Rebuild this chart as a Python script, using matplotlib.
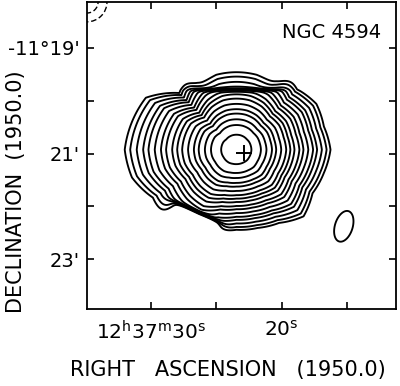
import numpy as np
import matplotlib
matplotlib.use("Agg")
import matplotlib.pyplot as plt
from matplotlib.patches import Ellipse

# frame: RA in seconds of 12h37m, Dec in arcmin south of -11 deg
ra_lim = (34.92, 11.23)
dec_lim = (23.94, 18.13)
ra_ticks = [30, 25, 20, 15]
ra_labels = [r"12$^{\rm h}$37$^{\rm m}$30$^{\rm s}$", "", r"20$^{\rm s}$", ""]
dec_ticks = [19, 20, 21, 22, 23]
dec_labels = ["-11°19'", "", "21'", "", "23'"]

# radio source
peak = (23.46, 20.925)          # contour centre (RA s, Dec ')
optical = (22.85, 20.98)        # cross
# outer contour radius (arcsec) every 15 deg, counterclockwise from west
shape_ang = list(range(0, 360, 15))
shape_rad = [106, 102, 104, 97, 108, 113, 113, 113, 105, 91, 118, 122,
             126, 122, 109, 113, 113, 96, 91, 92, 96, 107, 99, 102]
# contour levels, given as round-equivalent radius (arcsec)
levels = [17, 28, 34.5, 41, 46, 52, 58, 63, 68, 74, 79, 85, 91, 96, 102, 108, 113]
# secondary blob (offset arcsec W, N), semi-axes, position angle
blob = (121, -87)
blob_axes = (10, 18)
blob_pa = 73
# beam radii (arcsec) at top-left corner
beam_r = [12.5, 22.5]

COS_DEC = np.cos(np.radians(11.35))


def step(z, w):
    return 1.0 / (1.0 + np.exp(-np.clip(z / w, -50, 50)))


ra = np.linspace(ra_lim[1], ra_lim[0], 800)
dec = np.linspace(dec_lim[1], dec_lim[0], 800)
RA, DEC = np.meshgrid(ra, dec)
x = (peak[0] - RA) * 15 * COS_DEC
y = (peak[1] - DEC) * 60
r = np.hypot(x, y)
th = np.degrees(np.arctan2(y, x)) % 360
S = np.interp(th, shape_ang, shape_rad, period=360)
s_ref = levels[-1]
w = np.clip(r / S, 0, 1)
rho = r * s_ref / (s_ref + w * (S - s_ref))

# compressed edge at the top
rho += 25 * step(y - 68, 1.0) * step(th - 56, 3) * step(124 - th, 3)
# compressed edge at lower left
p0 = np.array([-63.4, -62.3])
u = np.array([0.91, -0.414]); n = np.array([-0.414, -0.91])
d = (x - p0[0]) * n[0] + (y - p0[1]) * n[1]
t = (x - p0[0]) * u[0] + (y - p0[1]) * u[1]
rho += 40 * step(d, 1.0) * step(t + 5, 5) * step(45 - t, 5)

# small blob
ca, sa = np.cos(np.radians(blob_pa)), np.sin(np.radians(blob_pa))
bx, by = x - blob[0], y - blob[1]
e2 = ((bx * ca + by * sa) / blob_axes[1]) ** 2 + ((-bx * sa + by * ca) / blob_axes[0]) ** 2
rho = np.minimum(rho, 110 + 3 * e2)

fig = plt.figure(figsize=(4, 3.86), dpi=100)
ax = fig.add_axes([87 / 400, 1 - 309 / 386, 309 / 400, 307 / 386])
ax.contour(RA, DEC, rho, levels=levels, colors="k", linewidths=1.35)
ax.plot(*optical, marker="+", ms=12, mew=1.4, color="k")

for rb in beam_r:
    ax.add_patch(Ellipse((ra_lim[0], dec_lim[1]), 2 * rb / (15 * COS_DEC), 2 * rb / 60,
                         fill=False, ls=(0, (4, 2)), lw=1.0, color="k"))

ax.set_xlim(*ra_lim)
ax.set_ylim(*dec_lim)
ax.set_xticks(ra_ticks)
ax.set_xticklabels(ra_labels, fontsize=14.5)
ax.set_yticks(dec_ticks)
ax.set_yticklabels(dec_labels, fontsize=14)
ax.tick_params(direction="in", length=5, width=1.2, top=True, right=True)
ax.tick_params(axis="x", pad=8)
ax.tick_params(axis="y", pad=5)
for sp in ax.spines.values():
    sp.set_linewidth(1.3)

ax.text(0.79, 0.9, "NGC 4594", transform=ax.transAxes, ha="center", va="center", fontsize=14)
fig.text(228 / 400, 1 - 370 / 386, "RIGHT   ASCENSION   (1950.0)", ha="center", va="center", fontsize=15)
fig.text(16 / 400, 1 - 192 / 386, "DECLINATION  (1950.0)", ha="center", va="center",
         rotation=90, fontsize=15)

fig.savefig("out.png", dpi=100)
